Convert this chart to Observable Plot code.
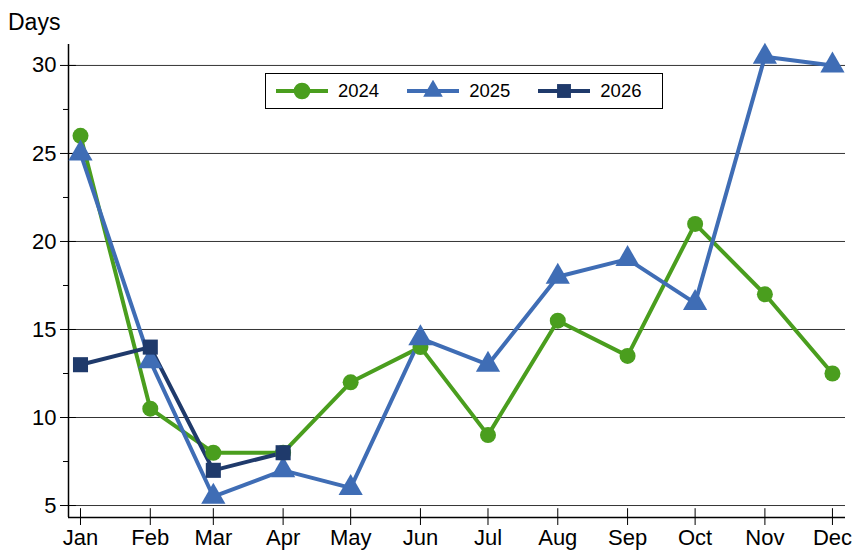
<!DOCTYPE html>
<html>
<head>
<meta charset="UTF-8">
<style>
  body { margin: 0; background: #fff; font-family: 'Liberation Sans', Arial, sans-serif; }
  #chart { position: relative; width: 856px; height: 556px; }
  #chart svg text { font-size: 22px; }
  #days { position: absolute; left: 8px; top: 9px; font-size: 23px; }
  #legend {
    position: absolute; left: 265px; top: 73px; width: 398px; height: 36px;
    border: 1px solid #000; background: #fff; display: flex; align-items: center;
    font-size: 18.5px; box-sizing: border-box;
  }
  #legend span { display: flex; align-items: center; margin-left: 10px; margin-right: 18px; }
  #legend svg { margin-right: 10px; }
</style>
</head>
<body>
<div id="chart"><div id="days">Days</div><div id="legend"></div></div>
<script src="https://cdn.jsdelivr.net/npm/d3@7"></script>
<script src="https://cdn.jsdelivr.net/npm/@observablehq/plot@0.6"></script>
<script>
const months = ["Jan","Feb","Mar","Apr","May","Jun","Jul","Aug","Sep","Oct","Nov","Dec"];
const monthDay = [0,31,59,90,120,151,181,212,243,273,304,334];
const v2024 = [26,10.5,8,8,12,14,9,15.5,13.5,21,17,12.5];
const v2025 = [25,13.2,5.5,7,6,14.5,13,18,19,16.5,30.5,30];
const v2026 = [13,14,7,8];
const series = [
  {name: "2024", values: v2024, color: "#4a9e1e", symbol: "circle", r: 8},
  {name: "2025", values: v2025, color: "#3f6db5", symbol: "triangle", r: 9},
  {name: "2026", values: v2026, color: "#1f3a6b", symbol: "square", r: 8.5}
];
const rows = series.flatMap(s => s.values.map((v, i) => ({year: s.name, day: monthDay[i], v})));
const major = [5,10,15,20,25,30];
const minor = [7.5,12.5,17.5,22.5,27.5];
const xd = [-5.33, 339.8], yd = [4.32, 31.19];

const plot = Plot.plot({
  width: 856, height: 556,
  marginLeft: 68, marginRight: 11, marginTop: 44, marginBottom: 39,
  style: {fontFamily: "'Liberation Sans', Arial, sans-serif", color: "#000"},
  x: {domain: xd},
  y: {domain: yd},
  symbol: {domain: series.map(s => s.name), range: series.map(s => s.symbol)},
  marks: [
    Plot.ruleY(major, {stroke: "#000", strokeWidth: 0.8}),
    Plot.axisY({ticks: major, tickSize: 8, tickFormat: d => d, label: null, tickPadding: 4}),
    Plot.ruleY(major, {x1: xd[0], x2: xd[0] + 3.5, stroke: "#000"}),
    Plot.axisY({ticks: minor, tickSize: 5, tickFormat: () => "", label: null}),
    Plot.axisX({ticks: monthDay, tickSize: 8, tickFormat: d => months[monthDay.indexOf(d)], label: null, tickPadding: 4}),
    Plot.ruleX(monthDay, {y1: yd[0], y2: yd[0] + 0.5, stroke: "#000"}),
    Plot.ruleX([xd[0]], {stroke: "#000", strokeWidth: 1.5}),
    Plot.ruleY([yd[0]], {stroke: "#000", strokeWidth: 1.5}),
    ...series.map(s => Plot.line(rows.filter(d => d.year === s.name), {x: "day", y: "v", stroke: s.color, strokeWidth: 4})),
    ...series.map(s => Plot.dot(rows.filter(d => d.year === s.name), {
      x: "day", y: "v", fill: s.color, symbol: "year", r: s.r, stroke: "none"
    }))
  ]
});
document.querySelector("#chart").prepend(plot);

const legend = document.querySelector("#legend");
series.forEach(s => {
  const sp = document.createElement("span");
  const sym = s.symbol === "circle" ? d3.symbolCircle : s.symbol === "triangle" ? d3.symbolTriangle2 : d3.symbolSquare2;
  const path = d3.symbol(sym, s.r * s.r * 3.4)();
  sp.innerHTML = `<svg width="52" height="22"><line x1="0" x2="52" y1="11" y2="11" stroke="${s.color}" stroke-width="4"/><path transform="translate(26,11)" d="${path}" fill="${s.color}"/></svg>${s.name}`;
  legend.append(sp);
});
</script>
</body>
</html>
